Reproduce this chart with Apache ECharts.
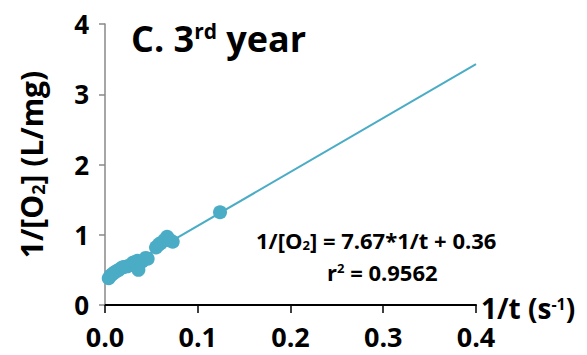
<!DOCTYPE html>
<html>
<head>
<meta charset="utf-8">
<script src="https://cdn.jsdelivr.net/npm/echarts@6/dist/echarts.min.js"></script>
<style>
  html, body { margin: 0; padding: 0; background: #fff; }
  #chart { width: 587px; height: 355px; }
</style>
</head>
<body>
<div id="chart"></div>
<script>
// Measured reciprocal time (1/t, s^-1) and reciprocal oxygen (1/[O2], L/mg)
const invT = [0.004, 0.006, 0.008, 0.010, 0.012, 0.015, 0.018, 0.020, 0.024, 0.028,
              0.030, 0.032, 0.035, 0.036, 0.040, 0.044, 0.046, 0.055, 0.058, 0.060,
              0.064, 0.067, 0.070, 0.073, 0.124];
const invO2 = [0.38, 0.42, 0.44, 0.46, 0.48, 0.50, 0.53, 0.54, 0.55, 0.57,
               0.60, 0.61, 0.63, 0.50, 0.62, 0.67, 0.66, 0.82, 0.86, 0.88,
               0.92, 0.97, 0.92, 0.90, 1.32];

// Linear fit coefficients and line extent
const slope = 7.67;
const intercept = 0.36;
const fitRange = [0, 0.4];
const r2 = 0.9562;

const xTicks = [0.0, 0.1, 0.2, 0.3, 0.4];
const yTicks = [0, 1, 2, 3, 4];

const teal = '#4BACC6';
const font = 'Open Sans';

const points = invT.map((x, i) => [x, invO2[i]]);
const fitLine = fitRange.map(x => [x, intercept + slope * x]);

const chart = echarts.init(document.getElementById('chart'), null, { renderer: 'svg' });
chart.setOption({
  animation: false,
  backgroundColor: '#ffffff',
  grid: { left: 105, right: 111, top: 24, bottom: 50, outerBoundsMode: 'none', containLabel: false },
  xAxis: {
    type: 'value',
    min: xTicks[0], max: xTicks[xTicks.length - 1], interval: 0.1,
    axisLine: { show: true, onZero: false, lineStyle: { color: '#000', width: 2 } },
    axisTick: { show: true, length: 8, lineStyle: { color: '#000', width: 1.5 } },
    splitLine: { show: false },
    axisLabel: {
      margin: 18, fontFamily: font, fontWeight: 'bold', fontSize: 27, lineHeight: 27, color: '#000',
      formatter: v => v.toFixed(1)
    },
    name: '{b|1/t (s}{sup|-1}{b|)}',
    nameLocation: 'end',
    nameGap: 5,
    nameMoveOverlap: false,
    nameTextStyle: {
      verticalAlign: 'middle',
      padding: [6, 0, 0, 0],
      rich: {
        b: { fontFamily: font, fontWeight: 'bold', fontSize: 28, lineHeight: 24, color: '#000' },
        sup: { fontFamily: font, fontWeight: 'bold', fontSize: 16, lineHeight: 16, color: '#000', verticalAlign: 'top', padding: [0, 0, 8, 0] }
      }
    }
  },
  yAxis: {
    type: 'value',
    min: yTicks[0], max: yTicks[yTicks.length - 1], interval: 1,
    axisLine: { show: true, onZero: false, lineStyle: { color: '#888', width: 1.5 } },
    axisTick: { show: true, length: 6, lineStyle: { color: '#888', width: 1.5 } },
    splitLine: { show: false },
    axisLabel: { margin: 16, fontFamily: font, fontWeight: 'bold', fontSize: 26, color: '#000' },
    name: '{b|1/[O}{sub|2}{b|] (L/mg)}',
    nameLocation: 'middle',
    nameRotate: 90,
    nameGap: 58,
    nameMoveOverlap: false,
    nameTextStyle: {
      rich: {
        b: { fontFamily: font, fontWeight: 'bold', fontSize: 30, color: '#000' },
        sub: { fontFamily: font, fontWeight: 'bold', fontSize: 18, color: '#000', verticalAlign: 'bottom', padding: [13, 0, 0, 0] }
      }
    }
  },
  graphic: [
    {
      type: 'text', left: 131, top: 20,
      style: {
        text: '{b|C. 3}{sup|rd}{b| year}',
        rich: {
          b: { fontFamily: font, fontWeight: 'bold', fontSize: 36, fill: '#000' },
          sup: { fontFamily: font, fontWeight: 'bold', fontSize: 21, fill: '#000', verticalAlign: 'top', padding: [0, 0, 16, 0] }
        }
      }
    },
    {
      type: 'text', left: 256, top: 229,
      style: {
        text: '{b|1/[O}{sub|2}{b|] = ' + slope.toFixed(2) + '*1/t + ' + intercept.toFixed(2) + '}',
        rich: {
          b: { fontFamily: font, fontWeight: 'bold', fontSize: 22, fill: '#000' },
          sub: { fontFamily: font, fontWeight: 'bold', fontSize: 13, fill: '#000', verticalAlign: 'bottom', padding: [8, 0, 0, 0] }
        }
      }
    },
    {
      type: 'text', left: 327, top: 261,
      style: {
        text: '{b|r}{sup|2}{b| = ' + r2.toFixed(4) + '}',
        rich: {
          b: { fontFamily: font, fontWeight: 'bold', fontSize: 22, fill: '#000' },
          sup: { fontFamily: font, fontWeight: 'bold', fontSize: 13, fill: '#000', verticalAlign: 'top', padding: [0, 0, 8, 0] }
        }
      }
    }
  ],
  series: [
    {
      type: 'line',
      data: fitLine,
      showSymbol: false,
      lineStyle: { color: teal, width: 2 },
      z: 2
    },
    {
      type: 'scatter',
      data: points,
      symbol: 'circle',
      symbolSize: 14,
      itemStyle: { color: teal, opacity: 1 },
      z: 3
    }
  ]
});
</script>
</body>
</html>
